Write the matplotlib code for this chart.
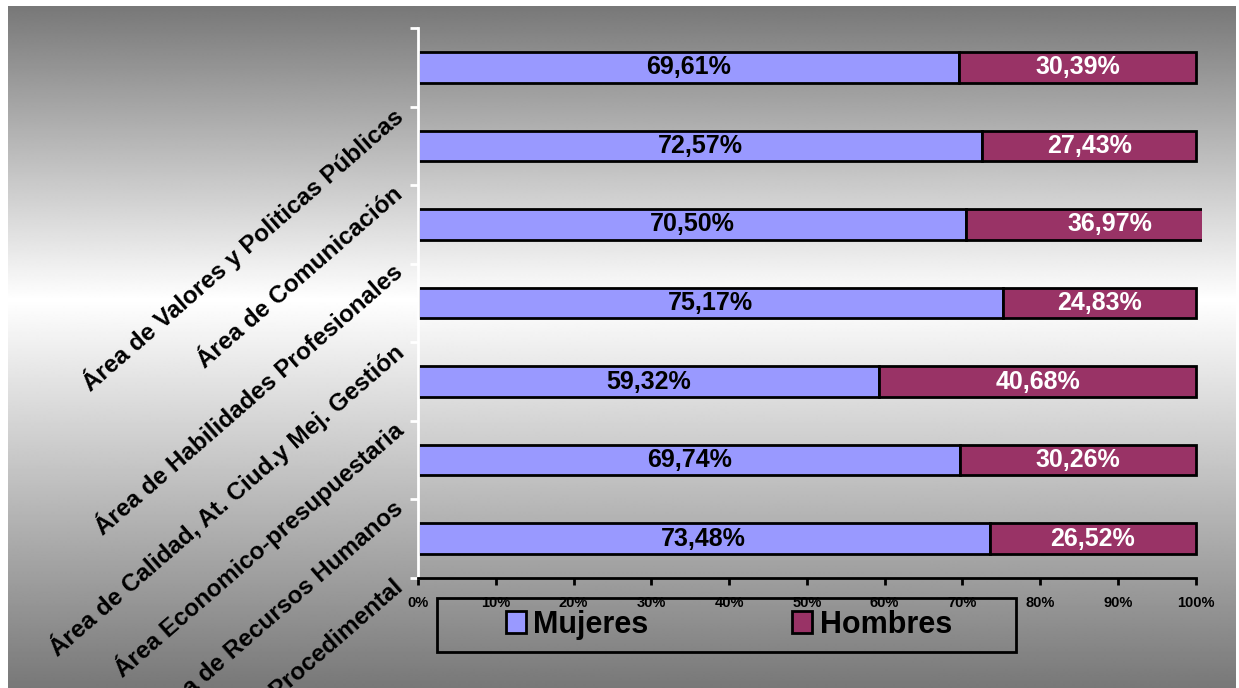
import matplotlib
matplotlib.use('Agg')
import matplotlib.pyplot as plt
import numpy as np
from matplotlib.patches import Rectangle, Patch
from matplotlib.transforms import offset_copy

categories = [
    "Área de Valores y Politicas Públicas",
    "Área de Comunicación",
    "Área de Habilidades Profesionales",
    "Área de Calidad, At. Ciud.y Mej. Gestión",
    "Área Economico-presupuestaria",
    "Área de Recursos Humanos",
    "Área Procedimental",
]
mujeres = [69.61, 72.57, 70.50, 75.17, 59.32, 69.74, 73.48]
hombres = [30.39, 27.43, 36.97, 24.83, 40.68, 30.26, 26.52]
series_names = ["Mujeres", "Hombres"]
xticks = list(range(0, 101, 10))
xtick_labels = [f"{t}%" for t in xticks]

COL_M = '#9999FF'
COL_H = '#993366'

plt.rcParams['font.family'] = ['Liberation Sans', 'DejaVu Sans']

W, H = 1239, 688
fig = plt.figure(figsize=(W / 100, H / 100), dpi=100)
fig.patch.set_facecolor('white')

# gradient background
bg = fig.add_axes([8 / W, 0, (1236 - 8) / W, 1 - 6 / H], zorder=0)
ypx = np.linspace(6, 688, 683)
g = np.where(ypx < 300, 0.47 + 0.53 * (ypx - 6) / 294, 1 - 0.53 * (ypx - 300) / 388)
img = np.repeat(g[:, None], 2, axis=1)
bg.imshow(img, cmap='gray', vmin=0, vmax=1, aspect='auto', extent=[0, 1, 0, 1],
          origin='upper', interpolation='bilinear')
bg.axis('off')

ax = fig.add_axes([418 / W, 1 - 578 / H, (1202 - 418) / W, (578 - 28) / H], zorder=1)
ax.patch.set_alpha(0)
y = np.arange(len(categories))
ax.barh(y, mujeres, height=0.39, color=COL_M, edgecolor='black', linewidth=2)
ax.barh(y, hombres, left=mujeres, height=0.39, color=COL_H, edgecolor='black', linewidth=2)
ax.set_xlim(0, 100.8)
ax.set_ylim(len(categories) - 0.5, -0.5)
for s in ['top', 'right']:
    ax.spines[s].set_visible(False)
ax.spines['bottom'].set_bounds(0, 100)
ax.spines['bottom'].set_linewidth(2)
ax.spines['bottom'].set_color('black')
ax.spines['left'].set_color('white')
ax.spines['left'].set_linewidth(2)
ax.set_yticks(np.arange(-0.5, len(categories) + 0.5, 1))
ax.set_yticklabels([])
ax.tick_params(axis='y', colors='white', length=6, width=2, direction='out')
ax.set_xticks(xticks)
ax.set_xticklabels(xtick_labels, fontsize=10.5, fontweight='bold')
ax.tick_params(axis='x', length=5, width=2, color='black', pad=8)

def fmt(v):
    return f"{v:.2f}".replace('.', ',') + '%'

for i, (m, h) in enumerate(zip(mujeres, hombres)):
    ax.text(m / 2, i, fmt(m), ha='center', va='center', fontsize=18,
            fontweight='bold', color='black', clip_on=False)
    ax.text(m + h / 2, i, fmt(h), ha='center', va='center', fontsize=18,
            fontweight='bold', color='white', clip_on=False)

trans = offset_copy(ax.get_yaxis_transform(), fig=fig, x=-18, y=-6, units='dots')
for i, cat in enumerate(categories):
    ax.text(0, i + 0.5, cat, transform=trans, rotation=41, rotation_mode='anchor',
            ha='right', va='center', fontsize=17.5, fontweight='bold', color='black',
            clip_on=False)

handles = [Patch(facecolor=COL_M, edgecolor='black', linewidth=2, label=series_names[0]),
           Patch(facecolor=COL_H, edgecolor='black', linewidth=2, label=series_names[1])]
fig.legend(handles=handles, loc='center', bbox_to_anchor=(729 / W, 1 - 625 / H), ncol=2,
           frameon=False, prop={'weight': 'bold', 'size': 22}, handlelength=0.65,
           handleheight=0.72, handletextpad=0.25, columnspacing=4.7)
fig.add_artist(Rectangle((437 / W, 1 - 652 / H), (1016 - 437) / W, (652 - 598) / H,
                         transform=fig.transFigure, fill=False, edgecolor='black',
                         linewidth=2, zorder=0.5))

fig.savefig('out.png', dpi=100)
